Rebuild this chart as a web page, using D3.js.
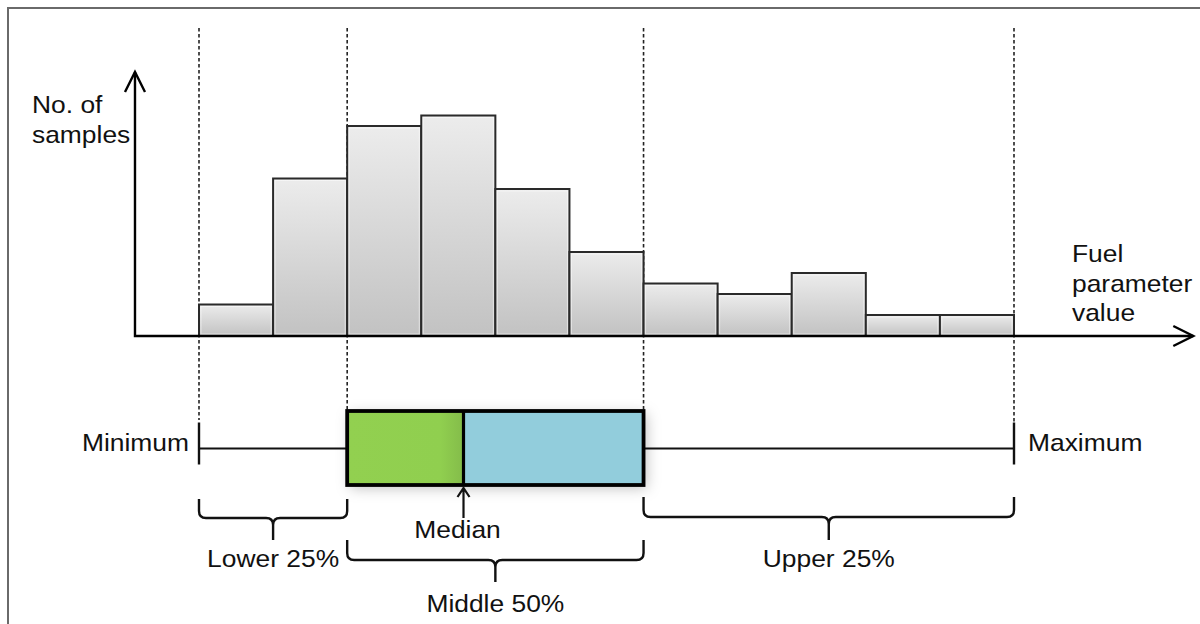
<!DOCTYPE html>
<html>
<head>
<meta charset="utf-8">
<script src="https://cdn.jsdelivr.net/npm/d3@7"></script>
<style>
  html, body { margin: 0; padding: 0; background: #fff; }
  svg { display: block; }
  text { font-family: "Liberation Sans", Arial, sans-serif; fill: #111; }
</style>
</head>
<body>
<svg id="chart" width="1200" height="624"></svg>
<script>
// ---- data ----
const bins = [1, 2, 3, 4, 5, 6, 7, 8, 9, 10, 11];
const counts = [3, 15, 20, 21, 14, 8, 5, 4, 6, 2, 2];
const boxStats = { min: 0, q1: 2, median: 3.57, q3: 6, max: 11 };
const markerLines = [0, 2, 6, 11];
const yAxisLabel = ["No. of", "samples"];
const xAxisLabel = ["Fuel", "parameter", "value"];
const braceLabels = ["Lower 25%", "Middle 50%", "Upper 25%"];

// ---- scales ----
const x = d3.scaleLinear().domain([0, bins.length]).range([199, 1014]);
const y = d3.scaleLinear().domain([0, 25]).range([336, 73.5]);

const svg = d3.select("#chart");
const defs = svg.append("defs");

const gBar = defs.append("linearGradient").attr("id", "barGrad")
  .attr("x1", 0).attr("y1", 0).attr("x2", 0).attr("y2", 1);
gBar.append("stop").attr("offset", "0%").attr("stop-color", "#ececec");
gBar.append("stop").attr("offset", "100%").attr("stop-color", "#c2c2c2");

const gGreen = defs.append("linearGradient").attr("id", "greenGrad")
  .attr("x1", 0).attr("y1", 0).attr("x2", 1).attr("y2", 0);
gGreen.append("stop").attr("offset", "0%").attr("stop-color", "#92d050");
gGreen.append("stop").attr("offset", "80%").attr("stop-color", "#90cf4f");
gGreen.append("stop").attr("offset", "100%").attr("stop-color", "#84bc4a");

const shadow = defs.append("filter").attr("id", "shadow")
  .attr("x", "-20%").attr("y", "-50%").attr("width", "140%").attr("height", "200%");
shadow.append("feDropShadow").attr("dx", 3).attr("dy", 3)
  .attr("stdDeviation", 7).attr("flood-color", "#000").attr("flood-opacity", 0.25);

// frame
svg.append("path").attr("d", "M8,624 L8,8 L1200,8")
  .attr("fill", "none").attr("stroke", "#6a6a6a").attr("stroke-width", 2);

// dashed marker lines
const dashEnds = { 0: 420, 2: 411, 6: 411, 11: 423 };
svg.append("g").selectAll("line").data(markerLines).join("line")
  .attr("x1", d => x(d)).attr("x2", d => x(d))
  .attr("y1", 28).attr("y2", d => dashEnds[d])
  .attr("stroke", "#222").attr("stroke-width", 1.6)
  .attr("stroke-dasharray", "3.5,2.5");

// bars
const bw = x(1) - x(0);
svg.append("g").selectAll("rect").data(counts).join("rect")
  .attr("x", (d, i) => x(i)).attr("width", bw)
  .attr("y", d => y(d)).attr("height", d => y(0) - y(d))
  .attr("fill", "url(#barGrad)")
  .attr("stroke", "#2a2a2a").attr("stroke-width", 2);
// inner highlight
svg.append("g").selectAll("rect").data(counts).join("rect")
  .attr("x", (d, i) => x(i) + 2).attr("width", bw - 4)
  .attr("y", d => y(d) + 2).attr("height", d => Math.max(0, y(0) - y(d) - 4))
  .attr("fill", "none").attr("stroke", "#ffffff").attr("stroke-opacity", 0.5).attr("stroke-width", 1);

// axes with open arrowheads
const axisG = svg.append("g").attr("fill", "none").attr("stroke", "#000").attr("stroke-width", 2.4);
const x0 = x(-0.864), xEnd = x(13.42), yTop = y(25.15), yBase = y(0);
axisG.append("path").attr("d", `M${x0},${yTop} L${x0},${yBase} L${xEnd},${yBase}`);
axisG.append("path").attr("d", `M${x0 - 10},${yTop + 20} L${x0},${yTop} L${x0 + 10},${yTop + 20}`);
axisG.append("path").attr("d", `M${xEnd - 20},${yBase - 10} L${xEnd},${yBase} L${xEnd - 20},${yBase + 10}`);

// axis labels
const stretch = "scale(1.1,1)";
function label(txt, px, py, anchor) {
  const t = svg.append("text")
    .attr("transform", `translate(${px},${py}) ${stretch}`)
    .attr("font-size", 24).attr("text-anchor", anchor || "start").text(txt);
  return t;
}
yAxisLabel.forEach((s, i) => label(s, 32, 113 + i * 29.5));
xAxisLabel.forEach((s, i) => label(s, 1072, 262 + i * 29.5));

// ---- box plot ----
const boxTop = 411, boxBot = 485, midY = (boxTop + boxBot) / 2 + 0.5;
const bp = svg.append("g");
// whiskers
bp.append("line").attr("x1", x(boxStats.min)).attr("x2", x(boxStats.q1))
  .attr("y1", midY).attr("y2", midY).attr("stroke", "#111").attr("stroke-width", 2.2);
bp.append("line").attr("x1", x(boxStats.q3)).attr("x2", x(boxStats.max))
  .attr("y1", midY).attr("y2", midY).attr("stroke", "#111").attr("stroke-width", 2.2);
[boxStats.min, boxStats.max].forEach(v => {
  bp.append("line").attr("x1", x(v)).attr("x2", x(v))
    .attr("y1", midY - 26).attr("y2", midY + 16).attr("stroke", "#111").attr("stroke-width", 2.4);
});
// box
const boxG = bp.append("g");
boxG.append("rect").attr("x", x(boxStats.q1)).attr("y", boxTop)
  .attr("width", x(boxStats.q3) - x(boxStats.q1)).attr("height", boxBot - boxTop)
  .attr("fill", "#92cddc").attr("filter", "url(#shadow)");
boxG.append("rect").attr("x", x(boxStats.q1)).attr("y", boxTop)
  .attr("width", x(boxStats.median) - x(boxStats.q1)).attr("height", boxBot - boxTop)
  .attr("fill", "url(#greenGrad)");
boxG.append("rect").attr("x", x(boxStats.q1)).attr("y", boxTop)
  .attr("width", x(boxStats.q3) - x(boxStats.q1)).attr("height", boxBot - boxTop)
  .attr("fill", "none").attr("stroke", "#000").attr("stroke-width", 3.8);
boxG.append("line").attr("x1", x(boxStats.median)).attr("x2", x(boxStats.median))
  .attr("y1", boxTop).attr("y2", boxBot).attr("stroke", "#000").attr("stroke-width", 3.2);

// median arrow
const mx = x(boxStats.median);
bp.append("path").attr("d", `M${mx},518 L${mx},488 M${mx - 6},497 L${mx},488 L${mx + 6},497`)
  .attr("fill", "none").attr("stroke", "#111").attr("stroke-width", 2.2);

// labels for min / max / median
label("Minimum", x(boxStats.min) - 10, 451, "end");
label("Maximum", x(boxStats.max) + 14, 451, "start");
label("Median", mx - 6, 538, "middle");

// braces
function bracePath(xa, xb, top, mid, tip) {
  const xm = (xa + xb) / 2, r = 7;
  return `M${xa},${top} L${xa},${mid - r} Q${xa},${mid} ${xa + r},${mid} L${xm - r},${mid} Q${xm},${mid} ${xm},${mid + r} L${xm},${tip}` +
         ` M${xm},${mid + r} Q${xm},${mid} ${xm + r},${mid} L${xb - r},${mid} Q${xb},${mid} ${xb},${mid - r} L${xb},${top}`;
}
const braces = [
  { a: boxStats.min, b: boxStats.q1, top: 499, mid: 518, tip: 540, ty: 567 },
  { a: boxStats.q1, b: boxStats.q3, top: 540, mid: 560, tip: 582, ty: 612 },
  { a: boxStats.q3, b: boxStats.max, top: 497, mid: 517, tip: 540, ty: 567 }
];
braces.forEach((br, i) => {
  svg.append("path").attr("d", bracePath(x(br.a), x(br.b), br.top, br.mid, br.tip))
    .attr("fill", "none").attr("stroke", "#111").attr("stroke-width", 2.4);
  label(braceLabels[i], (x(br.a) + x(br.b)) / 2, br.ty, "middle");
});
</script>
</body>
</html>
